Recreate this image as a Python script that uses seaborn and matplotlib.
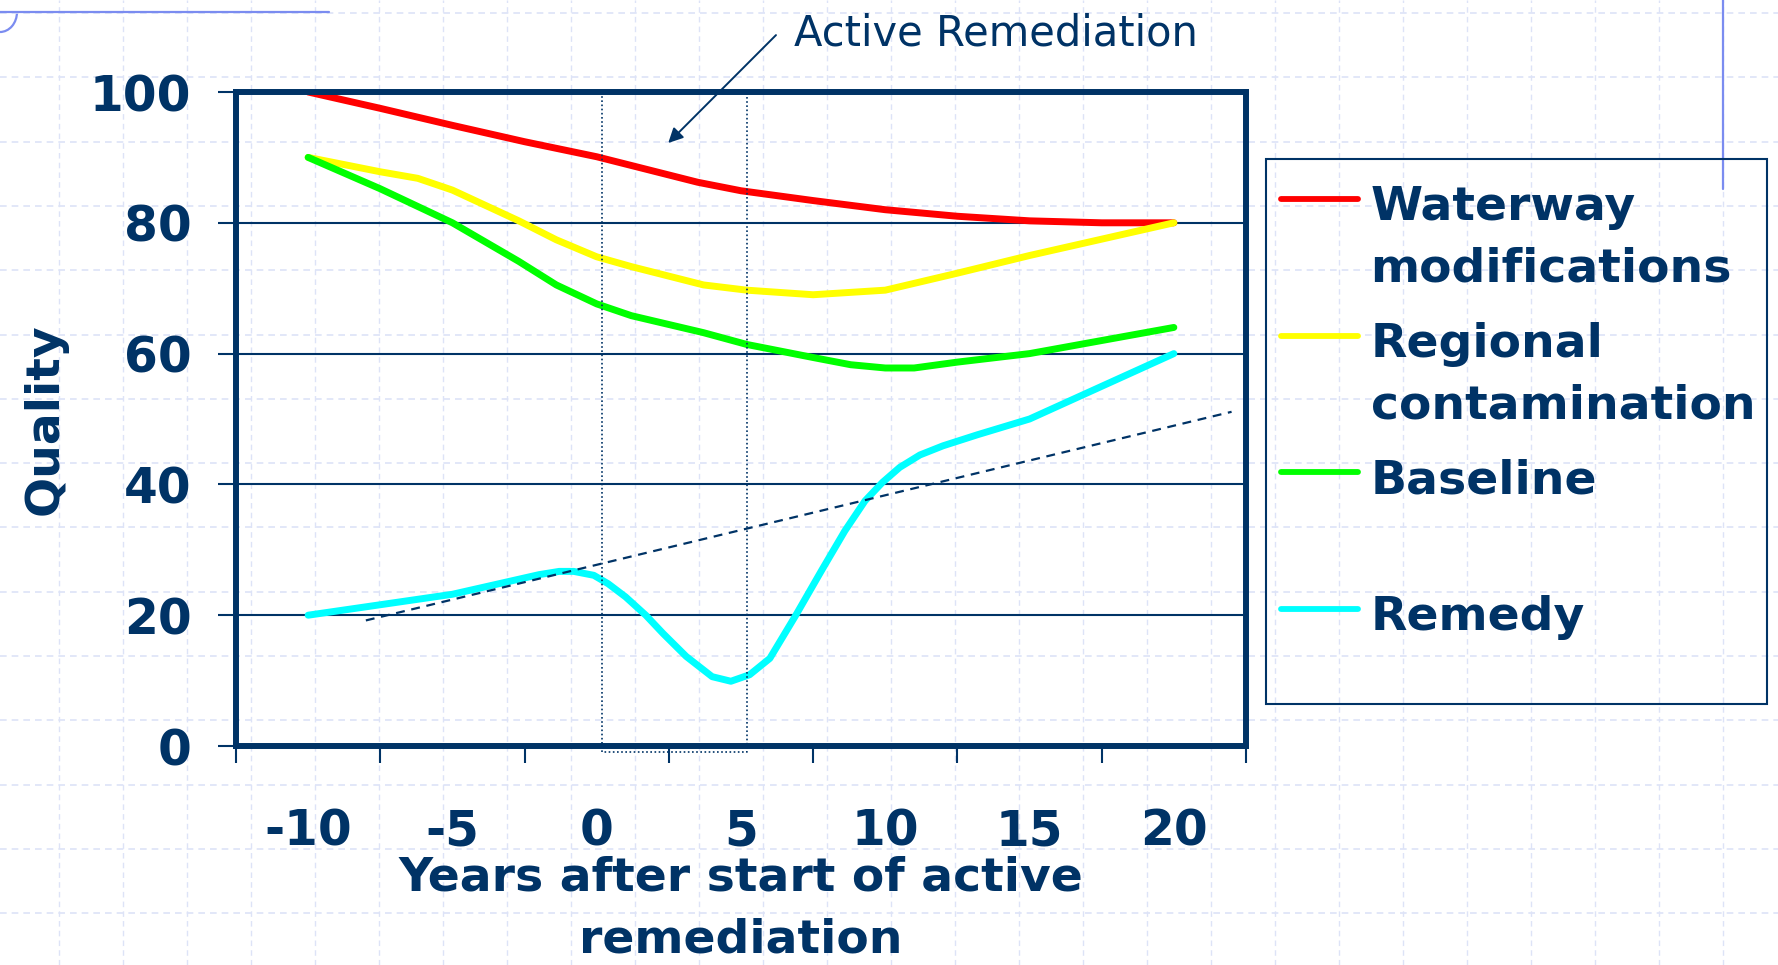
import numpy as np
import pandas as pd
import matplotlib
matplotlib.use('Agg')
import matplotlib.pyplot as plt
from matplotlib.lines import Line2D
from matplotlib.patches import Rectangle, Arc
import seaborn as sns

sns.set_style('white')
plt.rcParams['font.family'] = ['DejaVu Sans']

navy = '#003366'
W, H = 1778, 965


# values
red_x = [-10, -7.5, -5, -2.5, 0, 3.5, 5, 7.5, 10, 12.5, 15, 17.5, 20]
red_y = [100, 97.5, 94.9, 92.4, 90.1, 86.2, 84.9, 83.4, 82.0, 81.0, 80.3, 80, 80]

yel_x = [-10, -7.5, -6.2, -5, -2.7, -1.4, 0, 1.2, 3.7, 5.2, 7.5, 10, 12.5, 15, 17.5, 20]
yel_y = [90, 87.8, 86.8, 85, 80.3, 77.4, 74.8, 73.3, 70.5, 69.7, 69, 69.7, 72.3, 75, 77.5, 80]

grn_x = [-10, -7.5, -5, -2.7, -1.4, 0, 1.2, 3.7, 5.2, 7.5, 8.8, 10, 11, 12.5, 15, 17.5, 20]
grn_y = [90, 85.2, 80, 74.1, 70.5, 67.6, 65.8, 63.2, 61.4, 59.4, 58.3, 57.8, 57.8, 58.7, 60, 62, 64]

cyn_x = [-10, -5, -2, -1.3, -0.8, -0.1, 0.4, 1.0, 1.7, 2.3, 3.1, 4.0, 4.65, 5.3, 6.0,
         6.9, 7.8, 8.6, 9.3, 9.9, 10.5, 11.2, 12.0, 13.2, 15, 17.5, 20]
cyn_y = [20, 23.2, 26.2, 26.7, 26.7, 26.1, 24.8, 22.8, 20.0, 17.2, 13.7, 10.6, 9.9, 10.9, 13.4,
         20.0, 26.9, 32.9, 37.5, 40.3, 42.6, 44.5, 45.9, 47.6, 50, 55, 60]

series_names = ['Waterway\nmodifications', 'Regional\ncontamination', 'Baseline', 'Remedy']
series_colors = ['#ff0000', '#ffff00', '#00ff00', '#00ffff']

x_ticks = [-10, -5, 0, 5, 10, 15, 20]
y_ticks = [0, 20, 40, 60, 80, 100]

# dashed trend line ends
trend_x = [-8, 22]
trend_y = [19.2, 51.1]

# active remediation window
active_start, active_end = 0.2, 5.2


frames = []
for name, xs, ys in zip(series_names, [red_x, yel_x, grn_x, cyn_x], [red_y, yel_y, grn_y, cyn_y]):
    frames.append(pd.DataFrame({'year': xs, 'quality': ys, 'series': name}))
df = pd.concat(frames, ignore_index=True)


fig = plt.figure(figsize=(W / 100, H / 100), dpi=100)

# slide background: graph paper + template lines (pixel coords)
bg = fig.add_axes([0, 0, 1, 1], zorder=-1)
bg.set_xlim(0, W)
bg.set_ylim(H, 0)
bg.axis('off')
for gx in np.arange(59, W, 64):
    bg.axvline(gx, color='#dde3f7', lw=1, ls=(0, (4, 3)))
for gy in np.arange(13, H, 64.3):
    bg.axhline(gy, color='#dde3f7', lw=1.2, ls=(0, (4, 3)))
bg.plot([0, 329], [12, 12], color='#7b8cf0', lw=1.6)
bg.plot([1723, 1723], [0, 189], color='#7b8cf0', lw=1.6)
bg.add_patch(Arc((0, 12), 34, 40, theta1=0, theta2=90, color='#7b8cf0', lw=1.6))


# main chart
ax = fig.add_axes([236 / W, 1 - 746 / H, 1010 / W, 654 / H])
ax.set_facecolor('none')

sns.lineplot(data=df, x='year', y='quality', hue='series', hue_order=series_names,
             palette=series_colors, linewidth=5, estimator=None, sort=False,
             legend=False, ax=ax)

ax.plot(trend_x, trend_y, color=navy, lw=1.6, ls=(0, (4, 3)))
ax.plot([active_start, active_start, active_end, active_end], [100, -0.9, -0.9, 100],
        color=navy, lw=1.2, ls=(0, (1, 1.5)), clip_on=False)

ax.set_xlim(-12.5, 22.5)
ax.set_ylim(0, 100)

# category-style x axis: ticks between groups, labels in the middle
ax.set_xticks(np.arange(-12.5, 23, 5))
ax.set_xticklabels([])
ax.set_xticks(x_ticks, minor=True)
ax.set_xticklabels([str(v) for v in x_ticks], minor=True)
ax.tick_params(axis='x', which='major', length=12, width=1.5, direction='out',
               color=navy, bottom=True)
ax.tick_params(axis='x', which='minor', length=0, pad=44, labelsize=35,
               labelcolor=navy, bottom=True)

ax.set_yticks(y_ticks)
ax.tick_params(axis='y', length=13, width=1.5, direction='out', pad=19,
               labelsize=35, color=navy, labelcolor=navy, left=True)
for lab in ax.get_xticklabels(minor=True) + ax.get_yticklabels():
    lab.set_fontweight('bold')

ax.grid(False)
ax.grid(axis='y', color=navy, lw=1.5)
ax.set_axisbelow(True)
for sp in ax.spines.values():
    sp.set_visible(True)
    sp.set_color(navy)
    sp.set_linewidth(4.3)

ax.set_xlabel('Years after start of active\nremediation', fontsize=34,
              fontweight='bold', color=navy, linespacing=1.5)
ax.xaxis.set_label_coords(0.5, -0.167)
ax.set_ylabel('Quality', fontsize=34, fontweight='bold', color=navy)
ax.yaxis.label.set_va('center')
ax.yaxis.set_label_coords(-0.1886, 0.5)

# arrow + annotation
ax.annotate('', xy=(2.41, 91.9), xytext=(6.28, 109.0), annotation_clip=False,
            arrowprops=dict(arrowstyle='-|>', color=navy, lw=1.4, mutation_scale=22))
fig.text(794 / W, 1 - 46 / H, 'Active Remediation', fontsize=30, color=navy, va='baseline')


# legend box drawn by hand (handles sit on the first text line)
fig.add_artist(Rectangle((1265.6 / W, 1 - 704 / H), 501 / W, 545 / H,
                         transform=fig.transFigure, fill=False, ec=navy, lw=1.5))
for i, (name, col) in enumerate(zip(series_names, series_colors)):
    hy = 199 + 136.7 * i
    fig.add_artist(Line2D([1281 / W, 1358 / W], [1 - hy / H, 1 - hy / H],
                          transform=fig.transFigure, color=col, lw=4.2,
                          solid_capstyle='round'))
    for j, line in enumerate(name.split('\n')):
        fig.text(1370.6 / W, 1 - (hy + 21 + 62 * j) / H, line, fontsize=34,
                 fontweight='bold', color=navy, va='baseline')

fig.savefig('out.png', dpi=100)
